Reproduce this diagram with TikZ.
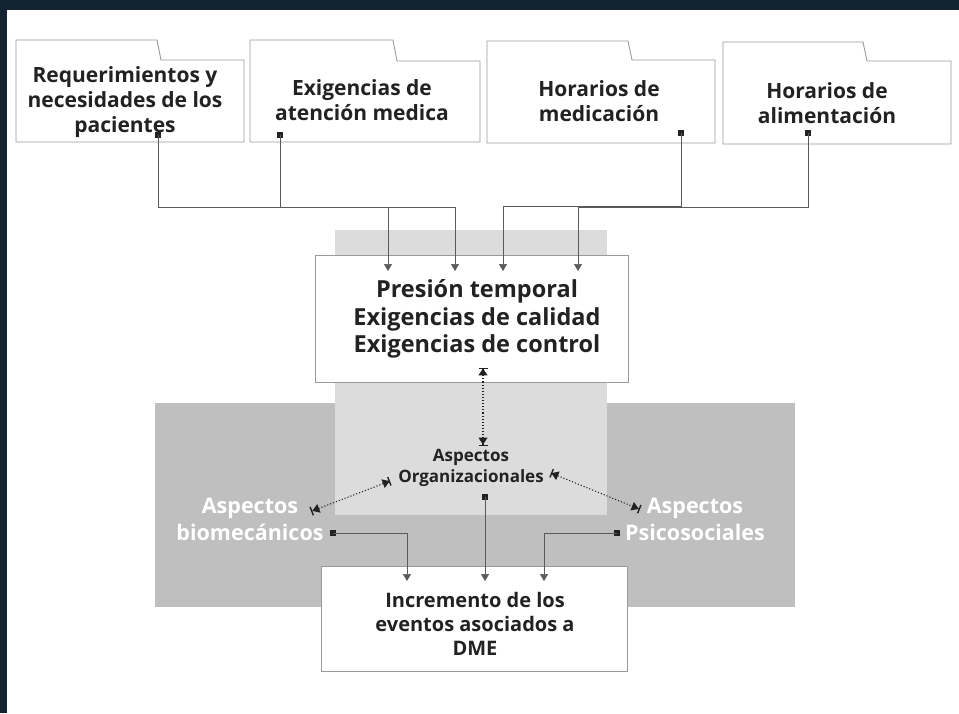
\documentclass[tikz,border=0pt]{standalone}
\usepackage{fontspec}
\setmainfont{Open Sans}
\usetikzlibrary{arrows.meta}
\definecolor{navy}{HTML}{142331}
\definecolor{darkgr}{HTML}{BFBFBF}
\definecolor{lightgr}{HTML}{DCDCDC}
\definecolor{edgegr}{HTML}{9A9A9A}
\definecolor{linegr}{HTML}{5A5A5A}
\definecolor{txt}{HTML}{222222}
\tikzset{
  folder/.style={draw=edgegr, line width=0.9pt, fill=white},
  box/.style={draw=edgegr, line width=0.9pt, fill=white, inner sep=0pt},
  sq/.style={fill=txt, minimum size=5.5pt, inner sep=0pt},
  conn/.style={draw=linegr, line width=0.7pt, -{Triangle[width=8pt,length=7pt]}},
  dotconn/.style={draw=txt, line width=1.1pt, dotted, {Bar[width=9pt,line width=1.4pt]Triangle[width=9pt,length=7pt,sep=-1pt]}-{Triangle[width=9pt,length=7pt]Bar[width=9pt,line width=1.4pt,sep=-1pt]}},
  toptext/.style={align=center, font=\bfseries\fontsize{21}{25}\selectfont, text=txt, inner sep=0pt},
  bigtext/.style={align=center, font=\bfseries\fontsize{23.5}{27.5}\selectfont, text=txt, inner sep=0pt},
  midtext/.style={align=center, font=\bfseries\fontsize{20}{24}\selectfont, text=txt, inner sep=0pt},
  orgtext/.style={align=center, font=\bfseries\fontsize{17}{21}\selectfont, text=txt, inner sep=0pt},
  whitetext/.style={align=center, font=\bfseries\fontsize{21.5}{27}\selectfont, text=white, inner sep=0pt}
}
\begin{document}
\begin{tikzpicture}[x=1pt,y=-1pt]
\useasboundingbox (0,0) rectangle (959,713);
\fill[white] (0,0) rectangle (959,713);
\fill[navy] (0,0) rectangle (959,10);
\fill[navy] (0,0) rectangle (7,713);

% background panels
\fill[darkgr] (155,403) rectangle (795,607);
\fill[lightgr] (335,230) rectangle (607,515);

% folders
\draw[folder] (16,142) -- (16,40) -- (157,40) -- (161,60) -- (244,60) -- (244,142) -- cycle;
\draw[folder] (250,142) -- (250,40) -- (393,40) -- (397,61) -- (480,61) -- (480,142) -- cycle;
\draw[folder] (487,143) -- (487,41) -- (628,41) -- (632,60) -- (715,60) -- (715,143) -- cycle;
\draw[folder] (723,144) -- (723,42) -- (863,42) -- (867,61) -- (951,61) -- (951,144) -- cycle;

\node[toptext] (f1) at (125,102.5) {Requerimientos y\\necesidades de los\\pacientes};
\node[toptext] (f2) at (362,100.5) {Exigencias de\\atención medica};
\node[toptext] (f3) at (599,101) {Horarios de\\medicación};
\node[toptext] (f4) at (827,103) {Horarios de\\alimentación};

% main boxes
\node[box, minimum width=313pt, minimum height=127pt] (pres) at (471.5,318.5) {};
\node[bigtext] (prest) at (477,319) {Presión temporal\\Exigencias de calidad\\Exigencias de control};
\node[box, minimum width=306pt, minimum height=105pt] (inc) at (474,618.5) {};
\node[midtext] (inct) at (475,624) {Incremento de los\\eventos asociados a\\DME};

% aspect labels
\node[orgtext] (org) at (471,468) {Aspectos\\Organizacionales};
\node[whitetext] (bio) at (250,519) {Aspectos\\biomecánicos};
\node[whitetext] (psi) at (695,519) {Aspectos\\Psicosociales};

% markers
\node[sq] (m1) at (158,135) {};
\node[sq] (m2) at (280,135) {};
\node[sq] (m3) at (681,133) {};
\node[sq] (m4) at (808,133) {};
\node[sq] (mb) at (333,533) {};
\node[sq] (mp) at (617,533) {};
\node[sq] (mo) at (485,497) {};

% arrow ends
\coordinate (t1) at (388,271);
\coordinate (t2) at (455,271);
\coordinate (t3) at (503,271);
\coordinate (t4) at (578,271);
\coordinate (tb) at (407,581);
\coordinate (to) at (485,581);
\coordinate (tp) at (544,581);

\draw[conn] (m1.center) -- ++(0,72) -| (t1);
\draw[conn] (m2.center) -- ++(0,72) -| (t2);
\draw[conn] (m3.center) -- ++(0,73) -| (t3);
\draw[conn] (m4.center) -- ++(0,74) -| (t4);
\draw[conn] (mb.center) -| (tb);
\draw[conn] (mp.center) -| (tp);
\draw[conn] (mo.center) -- (to);

% dotted connectors
\coordinate (dp) at (483,368);
\coordinate (dot) at (483,445);
\coordinate (dl1) at (390,481);
\coordinate (dl2) at (312,511);
\coordinate (dr1) at (551,473);
\coordinate (dr2) at (639,509);
\draw[dotconn] (dp) -- (dot);
\draw[dotconn] (dl1) -- (dl2);
\draw[dotconn] (dr1) -- (dr2);
\end{tikzpicture}
\end{document}
